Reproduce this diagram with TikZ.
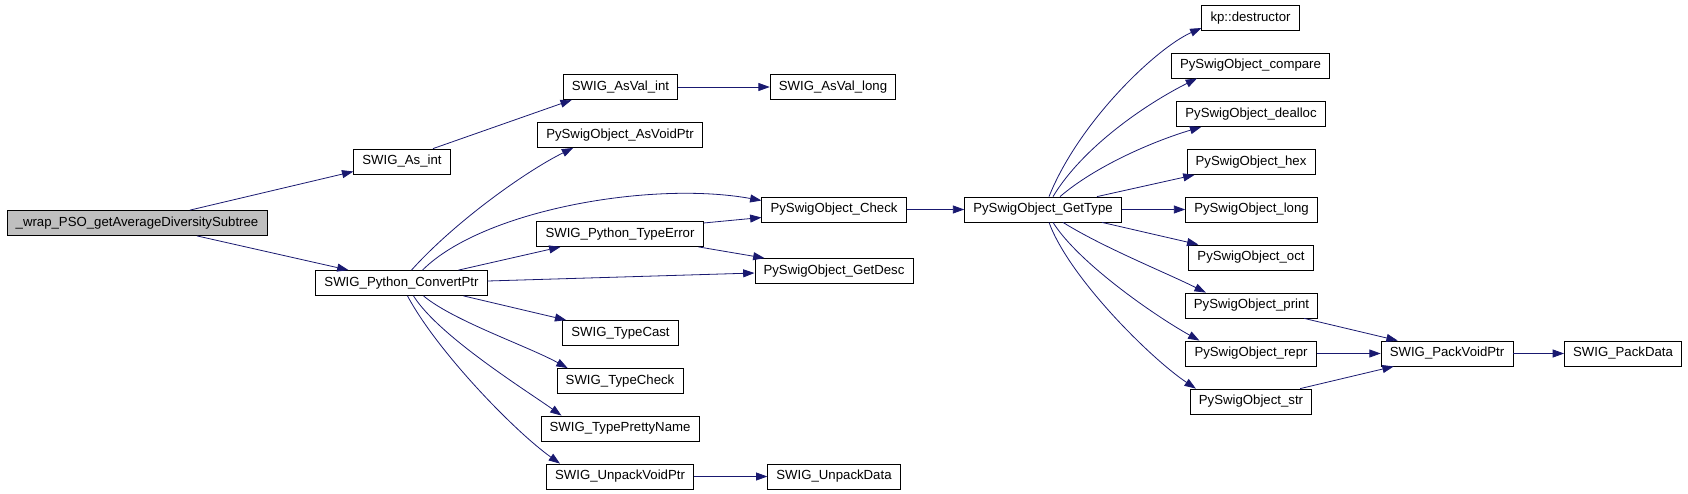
\documentclass[tikz,border=0pt]{standalone}
\usepackage{fontspec}
\setmainfont{Liberation Sans}
\usetikzlibrary{arrows.meta, calc}
\definecolor{callblue}{RGB}{25,25,112}
\definecolor{rootgray}{RGB}{191,191,191}

\begin{document}
\begin{tikzpicture}[
  x=0.75pt, y=-0.75pt,
  fn/.style={draw=black, fill=white, line width=0.6pt, minimum height=18.75pt, inner xsep=6.5pt, inner ysep=0pt, font=\fontsize{9.9}{11}\selectfont},
  rootfn/.style={fn, fill=rootgray},
  call/.style={draw=callblue, line width=0.6pt, -{Triangle[length=8.5pt, width=6pt]}}
]
  \useasboundingbox (0,0) rectangle (1688,493);

  \node[rootfn] (root) at (137,223) {\_wrap\_PSO\_getAverageDiversitySubtree};
  \node[fn] (asint) at (402,161.5) {SWIG\_As\_int};
  \node[fn] (convert) at (401.5,283) {SWIG\_Python\_ConvertPtr};

  \node[fn] (asvalint) at (620.5,87) {SWIG\_AsVal\_int};
  \node[fn] (asvoidptr) at (620,135) {PySwigObject\_AsVoidPtr};
  \node[fn] (typeerror) at (620,234) {SWIG\_Python\_TypeError};
  \node[fn] (typecast) at (620.5,333) {SWIG\_TypeCast};
  \node[fn] (typecheck) at (620,381) {SWIG\_TypeCheck};
  \node[fn] (prettyname) at (620,428.5) {SWIG\_TypePrettyName};
  \node[fn] (unpackvoid) at (620,476.5) {SWIG\_UnpackVoidPtr};

  \node[fn] (asvallong) at (833,87) {SWIG\_AsVal\_long};
  \node[fn] (check) at (834,209.5) {PySwigObject\_Check};
  \node[fn] (getdesc) at (834,271) {PySwigObject\_GetDesc};
  \node[fn] (unpackdata) at (834,476.5) {SWIG\_UnpackData};

  \node[fn] (gettype) at (1043,209.5) {PySwigObject\_GetType};

  \node[fn] (destructor) at (1250.5,18) {kp::destructor};
  \node[fn] (compare) at (1250.5,65.5) {PySwigObject\_compare};
  \node[fn] (dealloc) at (1251,114) {PySwigObject\_dealloc};
  \node[fn] (hex) at (1251,162) {PySwigObject\_hex};
  \node[fn] (long) at (1251.5,209.5) {PySwigObject\_long};
  \node[fn] (oct) at (1251,257.5) {PySwigObject\_oct};
  \node[fn] (print) at (1251.5,305.5) {PySwigObject\_print};
  \node[fn] (repr) at (1251,353.5) {PySwigObject\_repr};
  \node[fn] (str) at (1251,401.5) {PySwigObject\_str};

  \node[fn] (packvoid) at (1447,353.5) {SWIG\_PackVoidPtr};
  \node[fn] (packdata) at (1623,353.5) {SWIG\_PackData};

  \draw[call] ($(root.north)+(53,0)$) -- ($(asint.west)+(0,10)$);
  \draw[call] ($(root.south)+(60,0)$) -- ($(convert.north)+(-53,0)$);
  \draw[call] ($(asint.north)+(31,0)$) -- ($(asvalint.south west)+(9,0)$);
  \draw[call] (asvalint) -- (asvallong);

  \draw[call] ($(convert.north)+(10,0)$) .. controls +(45,-50) and +(-45,22) .. ($(asvoidptr.south west)+(36,0)$);
  \draw[call] ($(convert.north)+(21,0)$) .. controls +(60,-60) and +(-110,-20) .. ($(check.west)+(0,-9)$);
  \draw[call] ($(convert.north)+(57,0)$) -- ($(typeerror.south west)+(24,0)$);
  \draw[call] ($(convert.east)+(0,-2)$) -- ($(getdesc.west)+(0,2)$);
  \draw[call] ($(typeerror.east)+(0,-11)$) -- ($(check.west)+(0,8)$);
  \draw[call] ($(typeerror.south east)+(-5,0)$) -- ($(getdesc.north west)+(10,0)$);
  \draw[call] ($(convert.south)+(62,0)$) -- ($(typecast.north west)+(4,0)$);
  \draw[call] ($(convert.south)+(22,0)$) .. controls +(30,25) and +(-40,-22) .. ($(typecheck.north west)+(11,0)$);
  \draw[call] ($(convert.south)+(12,0)$) .. controls +(25,40) and +(-35,-25) .. ($(prettyname.north west)+(21,0)$);
  \draw[call] ($(convert.south)+(6,0)$) .. controls +(30,56) and +(-45,-32) .. ($(unpackvoid.north west)+(14,0)$);
  \draw[call] (unpackvoid) -- (unpackdata);
  \draw[call] (check) -- (gettype);

  \draw[call] ($(gettype.north)+(6,0)$) .. controls +(30,-75) and +(-45,20) .. ($(destructor.west)+(0,10)$);
  \draw[call] ($(gettype.north)+(10,0)$) .. controls +(30,-50) and +(-50,25) .. ($(compare.south west)+(26,0)$);
  \draw[call] ($(gettype.north)+(17,0)$) .. controls +(35,-30) and +(-50,15) .. ($(dealloc.south west)+(25,0)$);
  \draw[call] ($(gettype.north)+(54,0)$) -- ($(hex.south west)+(8,0)$);
  \draw[call] (gettype) -- (long);
  \draw[call] ($(gettype.south)+(59,0)$) -- ($(oct.north west)+(10,0)$);
  \draw[call] ($(gettype.south)+(20,0)$) .. controls +(40,25) and +(-40,-20) .. ($(print.north west)+(21,0)$);
  \draw[call] ($(gettype.south)+(10,0)$) .. controls +(25,40) and +(-45,-25) .. ($(repr.north west)+(14,0)$);
  \draw[call] ($(gettype.south)+(6,0)$) .. controls +(20,55) and +(-45,-30) .. ($(str.north west)+(6,0)$);

  \draw[call] ($(print.south east)+(-14,0)$) -- ($(packvoid.north west)+(17,0)$);
  \draw[call] (repr) -- (packvoid);
  \draw[call] ($(str.north east)+(-12,0)$) -- ($(packvoid.south west)+(13,0)$);
  \draw[call] (packvoid) -- (packdata);
\end{tikzpicture}
\end{document}
